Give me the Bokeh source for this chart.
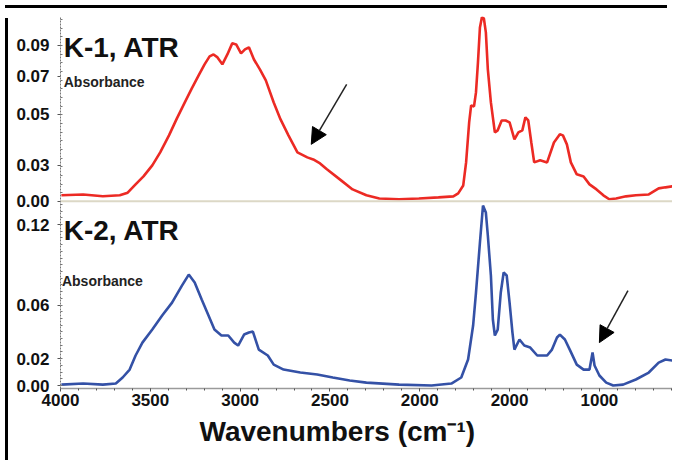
from bokeh.plotting import figure
from bokeh.models import (Range1d, LinearAxis, FixedTicker, Label, Span, Arrow,
                          NormalHead, ColumnDataSource, Div, Title)
from bokeh.layouts import column, row
from bokeh.embed import file_html
from bokeh.resources import INLINE

# ---------------- data ----------------
k1_wavenumber = [3995, 3874, 3764, 3670, 3626, 3582, 3538, 3489, 3445, 3396, 3352, 3308, 3269,
                 3231, 3198, 3170, 3148, 3126, 3099, 3071, 3044, 3022, 2995, 2973, 2951, 2923,
                 2890, 2857, 2813, 2775, 2731, 2681, 2626, 2593, 2555, 2517, 2445, 2374, 2297,
                 2225, 2115, 2005, 1896, 1813, 1786, 1758, 1742, 1725, 1714, 1698, 1687, 1676,
                 1665, 1654, 1643, 1632, 1621, 1604, 1582, 1566, 1544, 1522, 1500, 1473, 1451,
                 1429, 1412, 1396, 1379, 1363, 1330, 1291, 1253, 1220, 1203, 1181, 1159, 1126,
                 1088, 1055, 1016, 978, 945, 907, 852, 797, 725, 670, 632, 593]
k1_absorbance = [0.0035, 0.0040, 0.0030, 0.0035, 0.0050, 0.0098, 0.0144, 0.0208, 0.0283, 0.0381,
                 0.0479, 0.0571, 0.0652, 0.0727, 0.0791, 0.0837, 0.0848, 0.0831, 0.0791, 0.0848,
                 0.0912, 0.0906, 0.0854, 0.0877, 0.0889, 0.0819, 0.0762, 0.0698, 0.0571, 0.0473,
                 0.0381, 0.0283, 0.0254, 0.0242, 0.0219, 0.0185, 0.0127, 0.0069, 0.0035, 0.0017,
                 0.0012, 0.0017, 0.0023, 0.0029, 0.0046, 0.0092, 0.0225, 0.0456, 0.0554, 0.0548,
                 0.0629, 0.0802, 0.1004, 0.1062, 0.1056, 0.0975, 0.0762, 0.0571, 0.0398, 0.0410,
                 0.0467, 0.0467, 0.0456, 0.0358, 0.0398, 0.0410, 0.0485, 0.0467, 0.0340, 0.0225,
                 0.0237, 0.0225, 0.0340, 0.0387, 0.0381, 0.0329, 0.0225, 0.0156, 0.0144, 0.0098,
                 0.0069, 0.0035, 0.0012, 0.0017, 0.0029, 0.0035, 0.0040, 0.0075, 0.0081, 0.0087]

k2_wavenumber = [3995, 3874, 3764, 3692, 3654, 3615, 3582, 3544, 3489, 3434, 3379, 3324, 3286,
                 3253, 3214, 3176, 3143, 3104, 3066, 3033, 3011, 2978, 2951, 2929, 2896, 2846,
                 2813, 2758, 2665, 2571, 2484, 2390, 2297, 2115, 1934, 1824, 1769, 1731, 1703,
                 1687, 1665, 1648, 1632, 1621, 1604, 1593, 1582, 1566, 1549, 1533, 1516, 1500,
                 1484, 1473, 1445, 1418, 1385, 1346, 1291, 1264, 1236, 1220, 1192, 1165, 1126,
                 1088, 1055, 1038, 1027, 1000, 962, 923, 868, 797, 725, 670, 632, 593]
k2_absorbance = [0.0007, 0.0015, 0.0007, 0.0015, 0.0060, 0.0119, 0.0224, 0.0320, 0.0417, 0.0522,
                 0.0618, 0.0745, 0.0827, 0.0768, 0.0641, 0.0522, 0.0417, 0.0373, 0.0373, 0.0320,
                 0.0298, 0.0380, 0.0395, 0.0402, 0.0268, 0.0224, 0.0156, 0.0119, 0.0097, 0.0082,
                 0.0060, 0.0037, 0.0022, 0.0007, 0.0000, 0.0015, 0.0060, 0.0194, 0.0447, 0.0693,
                 0.1066, 0.1341, 0.1289, 0.1118, 0.0820, 0.0492, 0.0373, 0.0417, 0.0693, 0.0842,
                 0.0820, 0.0618, 0.0395, 0.0268, 0.0343, 0.0298, 0.0283, 0.0224, 0.0224, 0.0268,
                 0.0358, 0.0380, 0.0343, 0.0268, 0.0156, 0.0119, 0.0119, 0.0246, 0.0149, 0.0075,
                 0.0022, 0.0000, 0.0007, 0.0045, 0.0097, 0.0171, 0.0194, 0.0186]

x_ticks = [4000, 3500, 3000, 2500, 2000, 1500, 1000]
x_tick_labels = ["4000", "3500", "3000", "2500", "2000", "2000", "1000"]   # as printed in the source

# K-1 axis labels, placed where the source prints them (irregular spacing)
k1_tick_values = [0.0, 0.0208, 0.0502, 0.0721, 0.09]
k1_tick_labels = ["0.00", "0.03", "0.05", "0.07", "0.09"]
k2_tick_values = [0.0, 0.02, 0.06, 0.12]
k2_tick_labels = ["0.00", "0.02", "0.06", "0.12"]

panel_titles = ["K-1, ATR", "K-2, ATR"]
y_title = "Absorbance"
x_title = "Wavenumbers (cm\u207b\u00b9)"

# ---------------- figure ----------------
FONT = "Liberation Sans"
RED = "#ec2a24"
BLUE = "#3451a6"

yb0, yb1 = -0.0022, 0.275      # lower panel (K-2) scale
yt0, yt1 = -0.108, 0.1067      # upper panel (K-1) scale

p = figure(width=659, height=442, output_backend="svg", toolbar_location=None,
           x_range=Range1d(4000, 593), y_range=Range1d(yb0, yb1),
           min_border_left=47, min_border_right=0, min_border_top=3, min_border_bottom=67,
           x_axis_location=None, y_axis_location=None, title=None)
p.extra_y_ranges = {"top": Range1d(yt0, yt1)}
p.xgrid.visible = False
p.ygrid.visible = False
p.outline_line_color = None
p.background_fill_color = "white"
p.border_fill_color = "white"


def to_lower(v):
    return yb0 + (v - yt0) * (yb1 - yb0) / (yt1 - yt0)


# x axis
xax = LinearAxis(ticker=FixedTicker(ticks=x_ticks, minor_ticks=list(range(600, 4001, 100))))
xax.major_label_overrides = {t: l for t, l in zip(x_ticks, x_tick_labels)}
xax.major_label_text_font = FONT
xax.major_label_text_font_style = "bold"
xax.major_label_text_font_size = "17px"
xax.major_label_text_color = "#111111"
xax.major_label_standoff = 2
xax.axis_line_color = "#9a9a9a"
xax.axis_line_width = 1.5
xax.major_tick_line_color = "#555555"
xax.minor_tick_line_color = "#555555"
xax.major_tick_out = 3
xax.major_tick_in = 0
xax.minor_tick_out = 2
xax.minor_tick_in = 0
p.add_layout(xax, "below")

# x axis title (below the axis, left of centre as in the source)
p.add_layout(Title(text=x_title, align="left", offset=139, standoff=10,
                   text_font=FONT, text_font_style="bold", text_font_size="28px",
                   text_color="#111111"), "below")

# y axis (both panels share the left edge)
y_positions = [to_lower(v) for v in k1_tick_values] + k2_tick_values
y_labels = k1_tick_labels + k2_tick_labels
minor_b = [i * 0.005 for i in range(0, 28)]
minor_t = [to_lower(i * 0.005) for i in range(0, 22)]
yax = LinearAxis(ticker=FixedTicker(ticks=y_positions, minor_ticks=minor_b + minor_t))
yax.major_label_overrides = {t: l for t, l in zip(y_positions, y_labels)}
yax.major_label_text_font = FONT
yax.major_label_text_font_style = "bold"
yax.major_label_text_font_size = "17px"
yax.major_label_text_color = "#111111"
yax.major_label_standoff = 8
yax.axis_line_color = "#777777"
yax.axis_line_dash = "2 1"
yax.major_tick_line_color = "#555555"
yax.minor_tick_line_color = "#777777"
yax.major_tick_out = 3
yax.major_tick_in = 0
yax.minor_tick_out = 0
yax.minor_tick_in = 2
p.add_layout(yax, "left")

# separator between the panels (zero of K-1)
p.add_layout(Span(location=0, dimension="width", y_range_name="top",
                  line_color="#dcd8c6", line_width=2))

src1 = ColumnDataSource(dict(x=k1_wavenumber, y=k1_absorbance))
src2 = ColumnDataSource(dict(x=k2_wavenumber, y=k2_absorbance))
p.line("x", "y", source=src1, y_range_name="top", line_color=RED, line_width=2.6)
p.line("x", "y", source=src2, line_color=BLUE, line_width=2.6)

# panel texts
p.add_layout(Label(x=3982, y=0.0889, y_range_name="top", text=panel_titles[0],
                   text_font=FONT, text_font_style="bold", text_font_size="28px",
                   text_color="#111111", text_align="left", text_baseline="alphabetic"))
p.add_layout(Label(x=3982, y=0.0687, y_range_name="top", text=y_title,
                   text_font=FONT, text_font_style="bold", text_font_size="14px",
                   text_color="#222222", text_align="left", text_baseline="alphabetic"))
p.add_layout(Label(x=3982, y=0.1155, text=panel_titles[1],
                   text_font=FONT, text_font_style="bold", text_font_size="28px",
                   text_color="#111111", text_align="left", text_baseline="alphabetic"))
p.add_layout(Label(x=3992, y=0.0782, text=y_title,
                   text_font=FONT, text_font_style="bold", text_font_size="14px",
                   text_color="#222222", text_align="left", text_baseline="alphabetic"))

# arrows
p.add_layout(Arrow(x_start=2407, y_start=0.0675, x_end=2604, y_end=0.0329, y_range_name="top",
                   line_color="#222222", line_width=1.5,
                   end=NormalHead(size=16, fill_color="black", line_color="black")))
p.add_layout(Arrow(x_start=841, y_start=0.0708, x_end=1000, y_end=0.032,
                   line_color="#222222", line_width=1.5,
                   end=NormalHead(size=16, fill_color="black", line_color="black")))

# black frame around the figure (top and left edges)
top_bar = Div(text="", width=662, height=3, styles={"background-color": "black"})
left_bar = Div(text="", width=3, height=442, styles={"background-color": "black"})
layout = column(top_bar, row(left_bar, p, spacing=0), spacing=0)

open("out.html", "w").write(file_html(layout, INLINE))
